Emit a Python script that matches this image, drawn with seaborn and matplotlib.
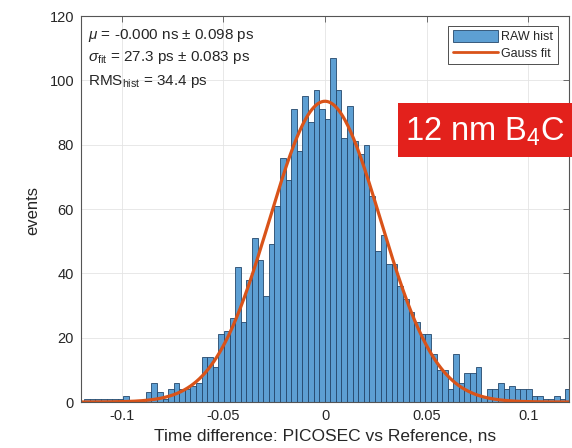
import numpy as np
import pandas as pd
import matplotlib
matplotlib.use("Agg")
import matplotlib.pyplot as plt
import seaborn as sns
from matplotlib.patches import Patch, Rectangle
from matplotlib.lines import Line2D

# ---- data ----
counts = [1, 1, 1, 1, 1, 1, 1, 2, 0, 0, 0,
          3, 6, 3, 1, 4, 6, 4, 4, 5, 6,
          14, 14, 11, 21, 22, 26, 42, 25, 38, 51, 44, 33, 49, 61,
          76, 69, 91, 78, 95, 87, 97, 91, 88, 107, 97, 82, 92, 81, 77, 80, 64,
          47, 52, 43, 43, 36, 32, 28, 25, 21, 21, 15, 10, 10, 4, 15, 6, 9, 9, 11, 2,
          4, 4, 6, 4, 5, 4, 4, 4, 2, 2, 1, 1, 2, 1, 4]
bin_start = -0.1184   # ns, left edge of first bin
bin_width = 0.00275   # ns
fit_mu = 0.0
fit_sigma = 0.0273
fit_amp = 93.5
x_ticks = [-0.1, -0.05, 0, 0.05, 0.1]
x_tick_labels = ["-0.1", "-0.05", "0", "0.05", "0.1"]
y_ticks = [0, 20, 40, 60, 80, 100, 120]
stat_lines = [r"$\mu$ = -0.000 ns $\pm$ 0.098 ps",
              r"$\sigma_{\rm fit}$ = 27.3 ps $\pm$ 0.083 ps",
              r"RMS$_{\rm hist}$ = 34.4 ps"]
legend_labels = ["RAW hist", "Gauss fit"]

sns.set_theme(style="white")
plt.rcParams["font.family"] = ["Liberation Sans", "DejaVu Sans"]
plt.rcParams["mathtext.fontset"] = "custom"
plt.rcParams["mathtext.rm"] = "Liberation Sans"
plt.rcParams["mathtext.it"] = "Liberation Sans:italic"
plt.rcParams["mathtext.bf"] = "Liberation Sans:bold"

bar_face = "#5d9fd3"
bar_edge = "#24476b"
fit_color = "#D95319"
txt_color = "#262626"

n_bins = len(counts)
centers = bin_start + bin_width * (np.arange(n_bins) + 0.5)
df = pd.DataFrame({"t": centers, "n": counts})

fig = plt.figure(figsize=(5.72, 4.48), dpi=100)
ax = fig.add_axes([81 / 572, 1 - 402 / 448, 488 / 572, 386 / 448])

sns.histplot(data=df, x="t", weights="n", binwidth=bin_width,
             binrange=(bin_start, bin_start + n_bins * bin_width), ax=ax,
             color=bar_face, alpha=1, edgecolor=bar_edge, linewidth=0.6)

xf = np.linspace(-0.12, 0.12, 500)
yf = fit_amp * np.exp(-(xf - fit_mu) ** 2 / (2 * fit_sigma ** 2))
sns.lineplot(x=xf, y=yf, ax=ax, color=fit_color, lw=2.3)

ax.set_xlim(-0.12, 0.12)
ax.set_ylim(0, 120)
ax.set_xticks(x_ticks)
ax.set_xticklabels(x_tick_labels)
ax.set_yticks(y_ticks)
ax.tick_params(direction="in", top=True, right=True, length=4, width=0.6,
               colors="#555555", labelcolor=txt_color, labelsize=10.5, pad=5)
ax.grid(True, color="#e4e4e4", lw=0.6)
ax.set_axisbelow(True)
for s in ax.spines.values():
    s.set_color("#555555")
    s.set_linewidth(0.8)
    s.set_visible(True)

ax.set_xlabel("Time difference: PICOSEC vs Reference, ns", fontsize=12.5, color=txt_color)
ax.set_ylabel("events", fontsize=12, color=txt_color)
ax.xaxis.set_label_coords(0.5, (402 - 429) / 386)
ax.yaxis.set_label_coords((40 - 81) / 488, 0.497)

for yv, s in zip([113.0, 105.9, 98.6], stat_lines):
    ax.text(-0.1166, yv, s, fontsize=11, color=txt_color, va="baseline", ha="left")

handles = [Patch(facecolor=bar_face, edgecolor=bar_edge, lw=0.6),
           Line2D([], [], color=fit_color, lw=2)]
leg = ax.legend(handles, legend_labels, loc="upper right",
                bbox_to_anchor=(0.977, 0.974), fontsize=9, frameon=True,
                fancybox=False, edgecolor="#333333", framealpha=1,
                borderaxespad=0, handlelength=3.6, handleheight=1.0,
                labelspacing=0.3, borderpad=0.35, handletextpad=0.3)
leg.get_frame().set_linewidth(0.6)

fig.patches.append(Rectangle((398 / 572, 1 - 157 / 448), 200 / 572, 54 / 448,
                             transform=fig.transFigure, facecolor="#E3211C",
                             edgecolor="none", zorder=5))
fig.text(405 / 572, 1 - 140.7 / 448, "12 nm B$_4$C", color="white",
         fontsize=23.5, va="baseline", ha="left", zorder=6)

fig.savefig("out.png", dpi=100)
